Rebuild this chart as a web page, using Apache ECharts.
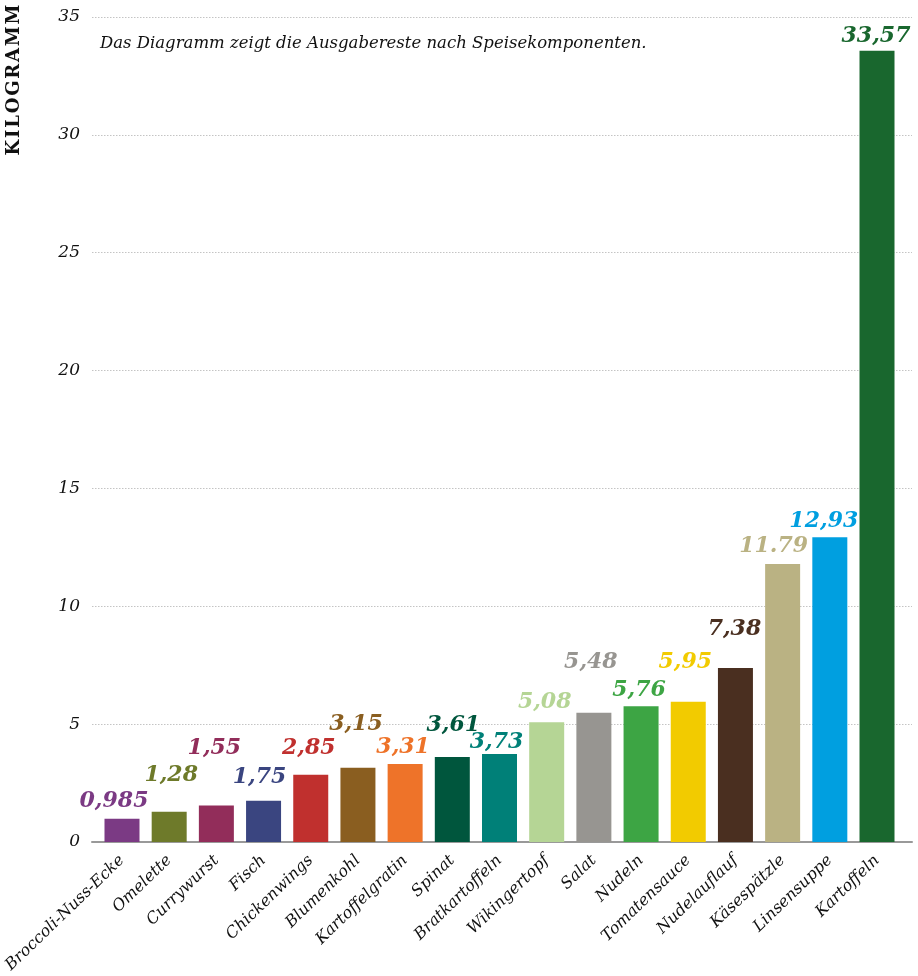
<!DOCTYPE html>
<html>
<head>
<meta charset="utf-8">
<script src="https://cdn.jsdelivr.net/npm/echarts@6/dist/echarts.min.js"></script>
<style>html,body{margin:0;padding:0;background:#fff}#c{width:918px;height:976px}</style>
</head>
<body>
<div id="c"></div>
<script>
var categories = ["Broccoli-Nuss-Ecke","Omelette","Currywurst","Fisch","Chickenwings","Blumenkohl","Kartoffelgratin","Spinat","Bratkartoffeln","Wikingertopf","Salat","Nudeln","Tomatensauce","Nudelauflauf","Käsespätzle","Linsensuppe","Kartoffeln"];
var values = [0.985,1.28,1.55,1.75,2.85,3.15,3.31,3.61,3.73,5.08,5.48,5.76,5.95,7.38,11.79,12.93,33.57];
var valueLabels = ["0,985","1,28","1,55","1,75","2,85","3,15","3,31","3,61","3,73","5,08","5,48","5,76","5,95","7,38","11.79","12,93","33,57"];
var yTicks = [0,5,10,15,20,25,30,35];

var colors = ["#7b3a84","#6e7a2a","#922d5a","#3a4580","#c0302e","#8a5e20","#ee7329","#00563d","#008078","#b5d595","#979591","#3da544","#f2cb00","#4a2f20","#bab283","#009fe0","#19672e"];
var labelOffsets = [[-8,-18],[2,-37],[-2,-57],[-4,-23],[-2,-27],[-2,-43],[-2,-17],[1,-32],[-3,-12],[-2,-20],[-3,-51],[-2,-16],[-3,-39],[-1,-39],[-9,-18],[-6,-16],[-1,-14]];

var serif = "DejaVu Serif";
var chart = echarts.init(document.getElementById('c'), null, {renderer:'canvas'});

var barData = values.map(function(v,i){
  return {
    value: v,
    itemStyle: {color: colors[i]},
    label: {
      show: true,
      formatter: valueLabels[i],
      position: ['50%', labelOffsets[i][1]],
      offset: [labelOffsets[i][0], 0],
      align: 'center',
      verticalAlign: 'middle',
      color: colors[i],
      fontFamily: serif,
      fontStyle: 'italic',
      fontWeight: 'bold',
      fontSize: 22
    }
  };
});

chart.setOption({
  animation: false,
  backgroundColor: '#fff',
  grid: [
    {left: 92, right: 6, top: 17, bottom: 134},
    {left: 98.4, right: 17.4, top: 17, bottom: 134}
  ],
  xAxis: [
    {type: 'value', gridIndex: 0, min: 0, max: 1, show: true,
     axisLine: {show: true, onZero: false, lineStyle: {color: '#999', width: 2}},
     axisTick: {show: false}, axisLabel: {show: false}, splitLine: {show: false}},
    {type: 'category', gridIndex: 1, data: categories,
     axisLine: {show: false}, axisTick: {show: false},
     axisLabel: {interval: 0, rotate: 44, margin: 16, fontFamily: serif, fontStyle: 'italic', fontSize: 16, color: '#111'}}
  ],
  yAxis: [
    {type: 'value', gridIndex: 0, min: yTicks[0], max: yTicks[yTicks.length-1], interval: 5,
     axisLine: {show: false}, axisTick: {show: false},
     axisLabel: {margin: 12, fontFamily: serif, fontStyle: 'italic', fontSize: 17, color: '#111', verticalAlign: 'middle', padding: [0,0,8,0]},
     splitLine: {show: true, lineStyle: {color: '#c4c4c4', type: [1.5, 1.5], width: 1}}},
    {type: 'value', gridIndex: 1, min: 0, max: 35, show: false, splitLine: {show: false}}
  ],
  series: [
    {type: 'bar', xAxisIndex: 1, yAxisIndex: 1, data: barData, barWidth: 35, z: 1}
  ],
  graphic: [
    {type: 'text', left: 100, top: 35, style: {text: 'Das Diagramm zeigt die Ausgabereste nach Speisekomponenten.', font: 'italic 16.5px "DejaVu Serif"', fill: '#111'}},
    {type: 'text', x: 14, y: 80, rotation: Math.PI/2, style: {text: 'K\u200aI\u200aL\u200aO\u200aG\u200aR\u200aA\u200aM\u200aM', font: 'bold 18px "DejaVu Serif"', fill: '#111', align: 'center', verticalAlign: 'middle'}}
  ]
});
</script>
</body>
</html>
